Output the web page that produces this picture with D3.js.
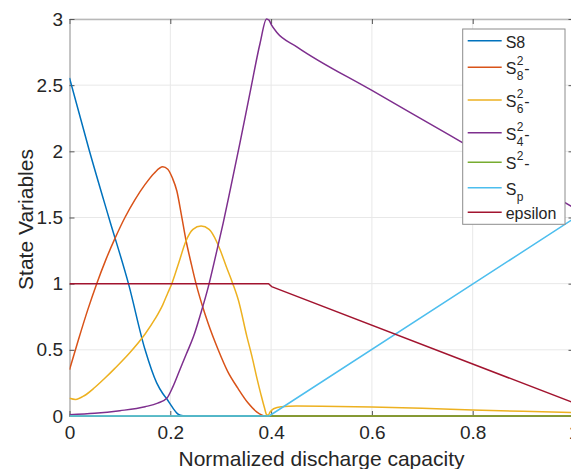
<!DOCTYPE html>
<html>
<head>
<meta charset="utf-8">
<script src="https://cdn.jsdelivr.net/npm/d3@7"></script>
<style>
  html, body { margin: 0; padding: 0; background: #fff; }
  svg { display: block; font-family: "Liberation Sans", Arial, Helvetica, sans-serif; }
</style>
</head>
<body>
<svg id="chart" width="571" height="469"></svg>
<script>
// Axis ticks
const capacityTicks = [0, 0.2, 0.4, 0.6, 0.8, 1];
const stateTicks = [0, 0.5, 1, 1.5, 2, 2.5, 3];

// State variables vs normalized discharge capacity, as [capacity, value]
const s8 = [[0,2.555],[0.039,2.01],[0.078,1.5],[0.117,1.0],[0.15,0.5],[0.173,0.25],[0.185,0.17],
  [0.193,0.13],[0.2,0.09],[0.207,0.05],[0.213,0.022],[0.22,0.006],[0.23,0],[1,0]];
const s8_2 = [[0,0.35],[0.018,0.58],[0.036,0.8],[0.054,1.0],[0.072,1.18],[0.09,1.34],[0.11,1.5],
  [0.13,1.635],[0.15,1.75],[0.168,1.835],[0.185,1.883],[0.195,1.865],[0.204,1.8],[0.213,1.7],
  [0.222,1.52],[0.231,1.33],[0.241,1.16],[0.251,1.0],[0.263,0.84],[0.275,0.7],[0.295,0.5],
  [0.314,0.335],[0.334,0.21],[0.354,0.1],[0.372,0.03],[0.388,0],[1,0]];
const s6_2 = [[0,0.134],[0.012,0.125],[0.03,0.155],[0.05,0.215],[0.07,0.285],[0.09,0.36],[0.12,0.48],
  [0.15,0.62],[0.17,0.735],[0.185,0.84],[0.195,0.93],[0.203,1.0],[0.217,1.16],[0.2305,1.317],
  [0.245,1.41],[0.261,1.435],[0.277,1.41],[0.292,1.317],[0.299,1.254],[0.311,1.13],[0.324,1.0],
  [0.335,0.876],[0.352,0.6],[0.362,0.45],[0.371,0.3],[0.38,0.16],[0.387,0.06],[0.391,0.01],
  [0.394,0.005],[0.398,0.03],[0.405,0.055],[0.42,0.07],[0.45,0.075],[0.5,0.074],[0.6,0.068],
  [0.7,0.058],[0.8,0.046],[0.9,0.035],[1,0.026]];
const s4_2 = [[0,0.01],[0.05,0.02],[0.1,0.04],[0.15,0.07],[0.175,0.097],[0.193,0.134],[0.205,0.22],
  [0.219,0.35],[0.232,0.47],[0.246,0.6],[0.26,0.77],[0.275,0.97],[0.29,1.21],[0.305,1.46],
  [0.32,1.73],[0.338,2.06],[0.358,2.44],[0.378,2.815],[0.391,3.0],[0.396,2.99],[0.401,2.953],
  [0.411,2.9],[0.451,2.79],[0.6,2.46],[0.755,2.12],[1,1.575]];
const s2 = [[0,0],[1,0]];
const sp = [[0,0],[0.396,0],[1,1.49]];
const epsilon = [[0,1],[0.395,1],[0.401,0.978],[1,0.1]];

// Series, in drawing order
const seriesData = [s8, s8_2, s6_2, s4_2, s2, sp, epsilon];
const seriesColors = ["#0072BD", "#D95319", "#EDB120", "#7E2F8E", "#77AC30", "#4DBEEE", "#A2142F"];
const seriesSmooth = [true, true, true, true, false, false, false];

// Legend labels: base text, superscript, subscript, trailing text
const labelBase = ["S8", "S", "S", "S", "S", "S", "epsilon"];
const labelSup = [null, "2", "2", "2", "2", null, null];
const labelSub = [null, "8", "6", "4", null, "p", null];
const labelTail = ["", "-", "-", "-", "-", "", ""];

const xTitle = "Normalized discharge capacity";
const yTitle = "State Variables";

// ---- layout ----
const svg = d3.select("#chart");
const plot = { left: 69.5, right: 573.5, top: 19, bottom: 416 };
const x = d3.scaleLinear().domain([0, 1]).range([plot.left, plot.right]);
const y = d3.scaleLinear().domain([0, 3]).range([plot.bottom, plot.top]);
const textColor = "#262626";

// grid
const grid = svg.append("g");
grid.selectAll("line.gx").data(capacityTicks.slice(1)).join("line")
  .attr("x1", d => x(d)).attr("x2", d => x(d))
  .attr("y1", plot.top).attr("y2", plot.bottom)
  .attr("stroke", "#e8e8e8").attr("stroke-width", 1);
grid.selectAll("line.gy").data(stateTicks.slice(1)).join("line")
  .attr("x1", plot.left).attr("x2", plot.right)
  .attr("y1", d => y(d)).attr("y2", d => y(d))
  .attr("stroke", "#e8e8e8").attr("stroke-width", 1);

// axes
function styleAxis(g, domainColor, domainWidth) {
  g.select(".domain").attr("stroke", domainColor).attr("stroke-width", domainWidth);
  g.selectAll(".tick line").attr("stroke", "#555").attr("stroke-width", 1);
  g.selectAll(".tick text").attr("fill", textColor).attr("font-size", 19)
    .attr("font-family", "'Liberation Sans', Arial, Helvetica, sans-serif");
}
const fmt = d3.format("");

svg.append("g").attr("transform", `translate(0,${plot.top})`)
  .call(d3.axisTop(x).tickValues(capacityTicks).tickFormat("").tickSize(-5).tickSizeOuter(0))
  .call(g => styleAxis(g, "#b8b8b8", 1.5));
svg.append("g").attr("transform", `translate(${plot.right},0)`)
  .call(d3.axisRight(y).tickValues(stateTicks).tickFormat("").tickSize(-5).tickSizeOuter(0))
  .call(g => styleAxis(g, "#b8b8b8", 1.5));
svg.append("g").attr("transform", `translate(${plot.left},0)`)
  .call(d3.axisLeft(y).tickValues(stateTicks).tickFormat(fmt).tickSize(-5).tickSizeOuter(0).tickPadding(6.5))
  .call(g => styleAxis(g, "#8a8a8a", 1));
svg.append("g").attr("transform", `translate(0,${plot.bottom})`)
  .call(d3.axisBottom(x).tickValues(capacityTicks).tickFormat(fmt).tickSize(-5).tickSizeOuter(0).tickPadding(10))
  .call(g => styleAxis(g, "#8a8a8a", 1));

// axis titles
svg.append("text")
  .attr("x", (plot.left + plot.right) / 2).attr("y", 466)
  .attr("text-anchor", "middle").attr("font-size", 21).attr("fill", textColor)
  .text(xTitle);
svg.append("text")
  .attr("transform", `translate(33,${(plot.top + plot.bottom) / 2 + 2}) rotate(-90)`)
  .attr("text-anchor", "middle").attr("font-size", 21).attr("fill", textColor)
  .text(yTitle);

// data lines
svg.append("clipPath").attr("id", "plot-clip")
  .append("rect").attr("x", plot.left).attr("y", plot.top - 3)
  .attr("width", plot.right - plot.left + 2).attr("height", plot.bottom - plot.top + 5);

const lines = svg.append("g").attr("clip-path", "url(#plot-clip)");
seriesData.forEach((data, i) => {
  const line = d3.line()
    .x(d => x(d[0])).y(d => y(d[1]))
    .curve(seriesSmooth[i] ? d3.curveMonotoneX : d3.curveLinear);
  lines.append("path")
    .datum(data)
    .attr("d", line)
    .attr("fill", "none")
    .attr("stroke", seriesColors[i])
    .attr("stroke-width", 1.5)
    .attr("stroke-linejoin", "round");
});

// legend
const legendBox = { x: 462.7, y: 29, w: 102.3, h: 195.3 };
const legendRowY = [40.7, 67.3, 100, 132.7, 162.3, 187.7, 212.3];
const legend = svg.append("g");
legend.append("rect")
  .attr("x", legendBox.x).attr("y", legendBox.y)
  .attr("width", legendBox.w).attr("height", legendBox.h)
  .attr("fill", "#fff").attr("stroke", "#8c8c8c").attr("stroke-width", 1);

seriesColors.forEach((c, i) => {
  const ry = legendRowY[i];
  legend.append("line")
    .attr("x1", 467.7).attr("x2", 501.7).attr("y1", ry).attr("y2", ry)
    .attr("stroke", c).attr("stroke-width", 1.5);
  const baseY = ry + 7;
  let cx = 505.7;
  const base = legend.append("text")
    .attr("x", cx).attr("y", baseY).attr("font-size", 16).attr("fill", textColor)
    .text(labelBase[i]);
  cx += base.node().getComputedTextLength() + 0.5;
  let scriptW = 0;
  if (labelSup[i]) {
    const t = legend.append("text")
      .attr("x", cx).attr("y", baseY - 9).attr("font-size", 12).attr("fill", textColor)
      .text(labelSup[i]);
    scriptW = Math.max(scriptW, t.node().getComputedTextLength());
  }
  if (labelSub[i]) {
    const t = legend.append("text")
      .attr("x", cx).attr("y", baseY + 6).attr("font-size", 12).attr("fill", textColor)
      .text(labelSub[i]);
    scriptW = Math.max(scriptW, t.node().getComputedTextLength());
  }
  cx += scriptW + 0.8;
  if (labelTail[i]) {
    legend.append("text")
      .attr("x", cx).attr("y", baseY).attr("font-size", 16).attr("fill", textColor)
      .text(labelTail[i]);
  }
});
</script>
</body>
</html>
